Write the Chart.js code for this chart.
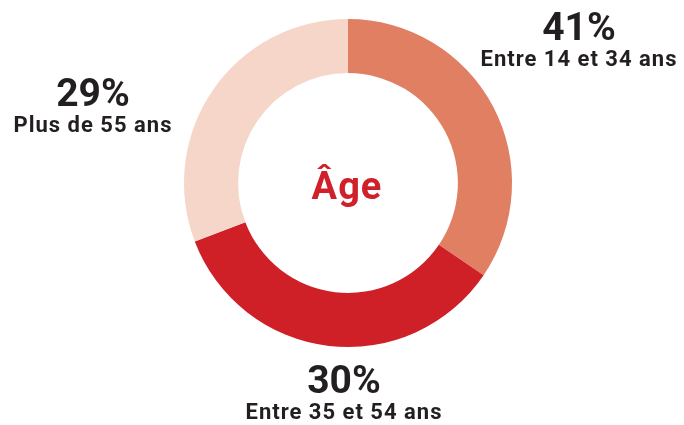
<!DOCTYPE html>
<html>
<head>
<meta charset="utf-8">
<script src="https://cdn.jsdelivr.net/npm/chart.js@4"></script>
<style>
  html, body { margin: 0; padding: 0; background: #ffffff; }
  #wrap { width: 684px; height: 425px; position: relative; }
</style>
</head>
<body>
<div id="wrap"><canvas id="ageChart"></canvas></div>
<script>
// data
const categories = ['Entre 14 et 34 ans', 'Entre 35 et 54 ans', 'Plus de 55 ans'];
const shares = [41, 30, 29];               // printed percentages
const arcShares = [34.5, 34.7, 30.8];      // slice sizes as drawn in the picture
const sliceColors = ['#E07F62', '#CF2027', '#F6D6C9'];
const centerTitle = 'Âge';

// label anchors (center x, baseline of percentage, baseline of caption)
const labelSpots = [
    { x: 579, pct: 40, cap: 66 },
    { x: 344, pct: 393, cap: 419 },
    { x: 93, pct: 106, cap: 132 }
];

const textColor = '#231F20';
const fontFamily = 'Roboto, "Liberation Sans", sans-serif';

const labelsPlugin = {
    id: 'ageLabels',
    afterDraw(chart) {
        const ctx = chart.ctx;
        const arc = chart.getDatasetMeta(0).data[0];
        ctx.save();
        ctx.textAlign = 'center';
        ctx.textBaseline = 'alphabetic';

        // center title
        ctx.fillStyle = '#D0202A';
        ctx.font = 'bold 38px ' + fontFamily;
        ctx.letterSpacing = '1px';
        ctx.fillText(centerTitle, arc.x - 1, arc.y + 16);

        // slice labels
        ctx.fillStyle = textColor;
        shares.forEach(function (v, i) {
            const spot = labelSpots[i];
            ctx.letterSpacing = '0px';
            ctx.font = 'bold 39px ' + fontFamily;
            ctx.fillText(v + '%', spot.x, spot.pct);
            ctx.letterSpacing = '1px';
            ctx.font = 'bold 22px ' + fontFamily;
            ctx.fillText(categories[i], spot.x, spot.cap);
        });
        ctx.restore();
    }
};

const ctx = document.getElementById('ageChart').getContext('2d');
const chart = new Chart(ctx, {
    type: 'doughnut',
    data: {
        labels: categories,
        datasets: [{
            data: arcShares,
            backgroundColor: sliceColors,
            borderWidth: 0
        }]
    },
    options: {
        responsive: true,
        maintainAspectRatio: false,
        animation: false,
        cutout: '67%',
        layout: {
            padding: { top: 19, bottom: 78, left: 184, right: 172 }
        },
        plugins: {
            legend: { display: false },
            tooltip: { enabled: false }
        }
    },
    plugins: [labelsPlugin]
});
</script>
</body>
</html>
